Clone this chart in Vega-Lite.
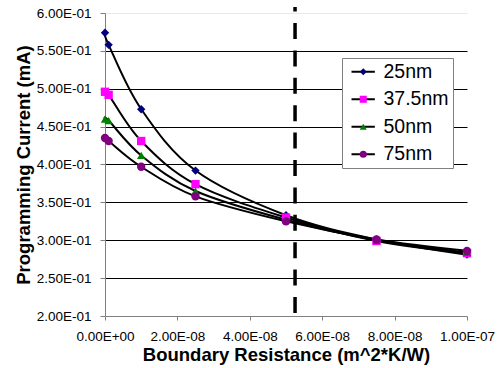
{
  "$schema": "https://vega.github.io/schema/vega-lite/v6.json",
  "width": 362,
  "height": 303,
  "autosize": {"type": "none"},
  "padding": {"left": 105, "top": 13, "right": 32, "bottom": 52},
  "background": "white",
  "config": {
    "view": {"stroke": null},
    "font": "Liberation Sans",
    "axis": {"labelFont": "Liberation Sans", "titleFont": "Liberation Sans", "labelColor": "black", "titleColor": "black"},
    "legend": {"labelFont": "Liberation Sans"}
  },
  "datasets": {
    "curves": [
      {"x": 0, "y": 0.574, "s": "25nm"},
      {"x": 1e-9, "y": 0.558, "s": "25nm"},
      {"x": 1e-8, "y": 0.473, "s": "25nm"},
      {"x": 2.5e-8, "y": 0.392, "s": "25nm"},
      {"x": 5e-8, "y": 0.333, "s": "25nm"},
      {"x": 7.5e-8, "y": 0.301, "s": "25nm"},
      {"x": 1e-7, "y": 0.281, "s": "25nm"},
      {"x": 0, "y": 0.496, "s": "37.5nm"},
      {"x": 1e-9, "y": 0.492, "s": "37.5nm"},
      {"x": 1e-8, "y": 0.431, "s": "37.5nm"},
      {"x": 2.5e-8, "y": 0.374, "s": "37.5nm"},
      {"x": 5e-8, "y": 0.330, "s": "37.5nm"},
      {"x": 7.5e-8, "y": 0.299, "s": "37.5nm"},
      {"x": 1e-7, "y": 0.283, "s": "37.5nm"},
      {"x": 0, "y": 0.460, "s": "50nm"},
      {"x": 1e-9, "y": 0.458, "s": "50nm"},
      {"x": 1e-8, "y": 0.412, "s": "50nm"},
      {"x": 2.5e-8, "y": 0.365, "s": "50nm"},
      {"x": 5e-8, "y": 0.327, "s": "50nm"},
      {"x": 7.5e-8, "y": 0.300, "s": "50nm"},
      {"x": 1e-7, "y": 0.284, "s": "50nm"},
      {"x": 0, "y": 0.435, "s": "75nm"},
      {"x": 1e-9, "y": 0.431, "s": "75nm"},
      {"x": 1e-8, "y": 0.397, "s": "75nm"},
      {"x": 2.5e-8, "y": 0.358, "s": "75nm"},
      {"x": 5e-8, "y": 0.325, "s": "75nm"},
      {"x": 7.5e-8, "y": 0.301, "s": "75nm"},
      {"x": 1e-7, "y": 0.286, "s": "75nm"}
    ],
    "marker": [{"x": 5.25e-8, "y": 0.2, "y2": 0.608}]
  },
  "layer": [
    {
      "data": {"name": "curves"},
      "mark": {"type": "line", "strokeWidth": 2, "interpolate": "cardinal"},
      "encoding": {
        "x": {
          "field": "x", "type": "quantitative",
          "scale": {"domain": [0, 1e-7], "nice": false, "zero": false},
          "axis": {
            "title": "Boundary Resistance (m^2*K/W)",
            "values": [0, 2e-8, 4e-8, 6e-8, 8e-8, 1e-7],
            "labelExpr": "replace(replace(format(datum.value,'.2e'),'e-','E-0'),'e+','E+0')",
            "labelOverlap": false, "labelFlush": false, "labelBound": false,
            "grid": false,
            "domainColor": "#808080", "domainWidth": 1,
            "tickColor": "#808080", "tickSize": 4,
            "labelFontSize": 13.5, "labelPadding": 9,
            "titleFontSize": 18.5, "titleFontWeight": "bold", "titlePadding": 3
          }
        },
        "y": {
          "field": "y", "type": "quantitative",
          "scale": {"domain": [0.2, 0.6], "nice": false, "zero": false},
          "axis": {
            "title": "Programming Current (mA)",
            "values": [0.2, 0.25, 0.3, 0.35, 0.4, 0.45, 0.5, 0.55, 0.6],
            "tickCount": 9,
            "labelExpr": "replace(replace(format(datum.value,'.2e'),'e-','E-0'),'e+','E+0')",
            "labelOverlap": false, "labelFlush": false, "labelBound": false,
            "grid": true,
            "gridColor": {"condition": {"test": "datum.value >= 0.599 || datum.value <= 0.201", "value": "#e8e8e8"}, "value": "black"},
            "gridWidth": 1,
            "domainColor": "#808080", "domainWidth": 1,
            "tickColor": "#808080", "tickSize": 5,
            "labelFontSize": 13.5, "labelPadding": 9,
            "titleFontSize": 18.5, "titleFontWeight": "bold", "titlePadding": 3
          }
        },
        "stroke": {
          "field": "s", "type": "nominal",
          "scale": {"range": ["black", "black", "black", "black"]},
          "legend": {
            "title": null, "orient": "none", "legendX": 237, "legendY": 45,
            "symbolType": "M-1.2,0H5.4", "symbolSize": 50, "symbolStrokeWidth": 2,
            "labelFontSize": 19.5, "labelOffset": 18, "labelColor": "black",
            "rowPadding": 6.5, "padding": 4,
            "fillColor": "white", "strokeColor": "#808080"
          }
        }
      }
    },
    {
      "data": {"name": "curves"},
      "mark": {"type": "point", "filled": true, "size": 70, "opacity": 1},
      "encoding": {
        "x": {"field": "x", "type": "quantitative"},
        "y": {"field": "y", "type": "quantitative"},
        "color": {
          "field": "s", "type": "nominal",
          "scale": {"range": ["#000080", "#ff00ff", "#008000", "#800080"]},
          "legend": {
            "title": null, "orient": "none", "legendX": 248.5, "legendY": 49,
            "symbolSize": 50, "symbolStrokeWidth": 2,
            "labelFontSize": 19.5, "labelOffset": 18, "labelExpr": "''",
            "rowPadding": 6.5, "padding": 0
          }
        },
        "shape": {
          "field": "s", "type": "nominal",
          "scale": {"range": ["diamond", "square", "triangle-up", "circle"]},
          "legend": {
            "title": null, "orient": "none", "legendX": 248.5, "legendY": 49,
            "symbolSize": 50, "symbolStrokeWidth": 2,
            "labelFontSize": 19.5, "labelOffset": 18, "labelExpr": "''",
            "rowPadding": 6.5, "padding": 0
          }
        }
      }
    },
    {
      "data": {"name": "marker"},
      "mark": {"type": "rule", "color": "black", "strokeWidth": 3.5, "strokeDash": [16, 11.4], "strokeDashOffset": 24.4},
      "encoding": {
        "x": {"field": "x", "type": "quantitative"},
        "y": {"field": "y", "type": "quantitative"},
        "y2": {"field": "y2"}
      }
    }
  ]
}
